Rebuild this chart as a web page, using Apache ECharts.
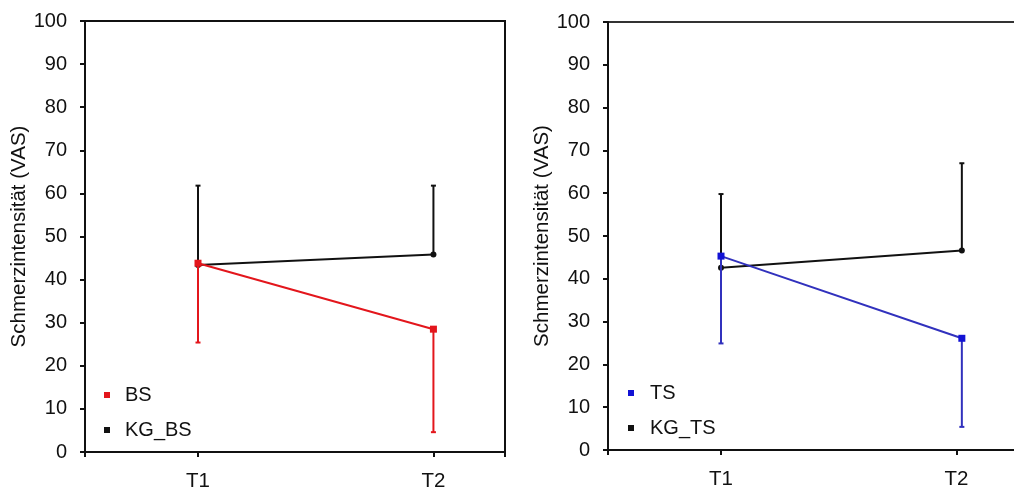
<!DOCTYPE html>
<html>
<head>
<meta charset="utf-8">
<script src="https://cdn.jsdelivr.net/npm/echarts@6/dist/echarts.min.js"></script>
<style>
  html, body { margin: 0; padding: 0; background: #fff; }
  #chart { width: 1014px; height: 488px; }
</style>
</head>
<body>
<div id="chart"></div>
<script>
// Measurement points
const timeLabels = ['T1', 'T2'];
const timeValues = [1, 2];
const leftX = [1, 2];
const rightX = [1, 2.023];

// Pain intensity (VAS): mean and standard deviation per time point
const bsMean = [43.8, 28.5];
const bsSd = [18.4, 23.9];
const kgBsMean = [43.4, 45.8];
const kgBsSd = [18.4, 16.0];

const tsMean = [45.3, 26.1];
const tsSd = [20.4, 20.7];
const kgTsMean = [42.6, 46.6];
const kgTsSd = [17.2, 20.4];

const yTicks = [0, 10, 20, 30, 40, 50, 60, 70, 80, 90, 100];

const FONT = "'Liberation Sans', Arial, sans-serif";
const RED = '#e3161c';
const BLUE = '#3131bd';
const BLUE_MARK = '#1212d4';
const BLACK = '#111111';
const X_MIN = 0.520;
const X_MAX = 2.304;

function meanLine(name, xs, means, color, markColor, symbol, size, idx, z) {
  return {
    name: name,
    type: 'line',
    xAxisIndex: idx,
    yAxisIndex: idx,
    data: xs.map((x, i) => [x, means[i]]),
    symbol: symbol,
    symbolSize: size,
    showSymbol: true,
    lineStyle: { color: color, width: 2 },
    itemStyle: { color: markColor },
    emphasis: { disabled: true },
    animation: false,
    z: z
  };
}

// One-sided error bars: dir = -1 draws down, dir = +1 draws up
function errorBars(xs, means, sds, dir, color, idx, z) {
  return {
    type: 'custom',
    xAxisIndex: idx,
    yAxisIndex: idx,
    data: xs.map((x, i) => [x, means[i], means[i] + dir * sds[i]]),
    encode: { x: 0, y: [1, 2] },
    renderItem: function (params, api) {
      const p0 = api.coord([api.value(0), api.value(1)]);
      const p1 = api.coord([api.value(0), api.value(2)]);
      const hw = 2.5;
      return {
        type: 'group',
        children: [
          { type: 'line', shape: { x1: p0[0], y1: p0[1], x2: p1[0], y2: p1[1] },
            style: { stroke: color, lineWidth: 2 } },
          { type: 'line', shape: { x1: p1[0] - hw, y1: p1[1], x2: p1[0] + hw, y2: p1[1] },
            style: { stroke: color, lineWidth: 2 } }
        ]
      };
    },
    animation: false,
    silent: true,
    z: z
  };
}

function xAxis(idx) {
  return {
    type: 'value',
    gridIndex: idx,
    min: X_MIN,
    max: X_MAX,
    splitLine: { show: false },
    axisLine: { show: true, onZero: false, lineStyle: { color: BLACK, width: 2 } },
    axisTick: { show: true, inside: false, length: 5, customValues: [X_MIN, 1, 2, X_MAX],
                lineStyle: { color: BLACK, width: 2 } },
    axisLabel: {
      show: true,
      customValues: timeValues,
      formatter: v => timeLabels[timeValues.indexOf(Math.round(v))],
      fontFamily: FONT, fontSize: 20.5, color: BLACK, margin: 19
    }
  };
}

function yAxis(idx) {
  return {
    type: 'value',
    gridIndex: idx,
    min: yTicks[0],
    max: yTicks[yTicks.length - 1],
    interval: 10,
    name: 'Schmerzintensität (VAS)',
    nameLocation: 'middle',
    nameRotate: 90,
    nameGap: 51,
    nameTextStyle: { fontFamily: FONT, fontSize: 20.5, color: BLACK },
    splitLine: { show: false },
    axisLine: { show: true, lineStyle: { color: BLACK, width: 2 } },
    axisTick: { show: true, inside: false, length: 5, lineStyle: { color: BLACK, width: 2 } },
    axisLabel: { fontFamily: FONT, fontSize: 20, color: BLACK, margin: 18 }
  };
}

function legend(names, left, top, gap) {
  return {
    data: names,
    orient: 'vertical',
    left: left,
    top: top,
    icon: 'rect',
    itemWidth: 6,
    itemHeight: 6,
    itemGap: 15,
    selectedMode: false,
    textStyle: { fontFamily: FONT, fontSize: 20, color: BLACK, lineHeight: 20, padding: [0, 0, 0, gap] }
  };
}

const chart = echarts.init(document.getElementById('chart'), null, { renderer: 'canvas' });

chart.setOption({
  backgroundColor: '#ffffff',
  animation: false,
  grid: [
    { left: 85, top: 21, width: 420, height: 431, outerBoundsMode: 'none',
      show: true, borderColor: BLACK, borderWidth: 2, backgroundColor: 'transparent' },
    { left: 608, top: 22, width: 420, height: 428, outerBoundsMode: 'none',
      show: true, borderColor: '#333333', borderWidth: 2, backgroundColor: 'transparent' }
  ],
  legend: [
    legend(['BS', 'KG_BS'], 99, 380, 10),
    legend(['TS', 'KG_TS'], 623, 378, 11)
  ],
  xAxis: [xAxis(0), xAxis(1)],
  yAxis: [yAxis(0), yAxis(1)],
  series: [
    // left panel
    errorBars(leftX, kgBsMean, kgBsSd, 1, BLACK, 0, 2),
    meanLine('KG_BS', leftX, kgBsMean, BLACK, BLACK, 'circle', 6, 0, 3),
    errorBars(leftX, bsMean, bsSd, -1, RED, 0, 4),
    meanLine('BS', leftX, bsMean, RED, RED, 'rect', 7, 0, 5),
    // right panel
    errorBars(rightX, kgTsMean, kgTsSd, 1, BLACK, 1, 2),
    meanLine('KG_TS', rightX, kgTsMean, BLACK, BLACK, 'circle', 6, 1, 3),
    errorBars(rightX, tsMean, tsSd, -1, BLUE, 1, 4),
    meanLine('TS', rightX, tsMean, BLUE, BLUE_MARK, 'rect', 7, 1, 5)
  ]
});
</script>
</body>
</html>
